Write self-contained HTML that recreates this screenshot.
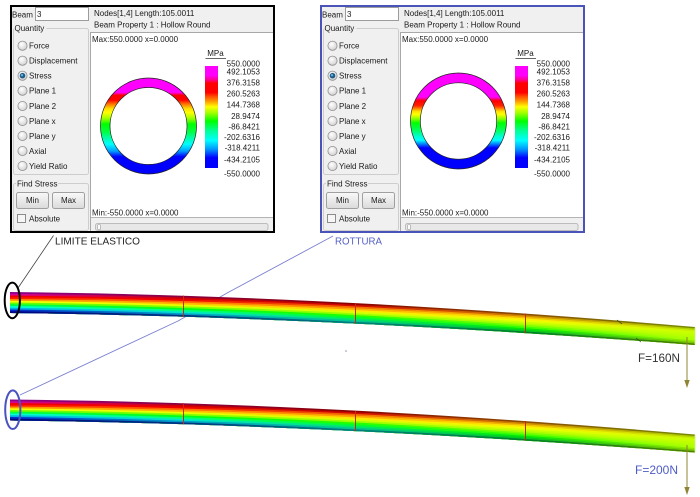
<!DOCTYPE html>
<html><head><meta charset="utf-8"><style>
html,body{margin:0;padding:0;background:#fff;width:700px;height:497px;overflow:hidden}
svg{display:block}
</style></head><body>
<svg width="700" height="497" viewBox="0 0 700 497" xmlns="http://www.w3.org/2000/svg" font-family="'Liberation Sans', Arial, sans-serif">
<defs>
<linearGradient id="cbar" x1="0" y1="0" x2="0" y2="1">
<stop offset="0" stop-color="#ff00ff"/><stop offset=".09" stop-color="#ff00ff"/><stop offset=".13" stop-color="#ff00a0"/><stop offset=".17" stop-color="#ff0000"/><stop offset=".26" stop-color="#ff0000"/><stop offset=".30" stop-color="#ff5000"/><stop offset=".35" stop-color="#ffa000"/><stop offset=".40" stop-color="#ffff00"/><stop offset=".46" stop-color="#a0ff00"/><stop offset=".54" stop-color="#00ff00"/><stop offset=".63" stop-color="#00ff90"/><stop offset=".73" stop-color="#00ffff"/><stop offset=".82" stop-color="#0090ff"/><stop offset=".90" stop-color="#0000ff"/><stop offset="1" stop-color="#0000ff"/>
</linearGradient>
<linearGradient id="ring1" gradientUnits="userSpaceOnUse" x1="0" y1="78" x2="0" y2="174">
<stop offset="0" stop-color="#ff00ff"/><stop offset=".15" stop-color="#ff00ff"/><stop offset=".18" stop-color="#ff0000"/><stop offset=".23" stop-color="#ff0000"/><stop offset=".27" stop-color="#ff7000"/><stop offset=".32" stop-color="#ffe000"/><stop offset=".36" stop-color="#ffff00"/><stop offset=".42" stop-color="#a0ff00"/><stop offset=".48" stop-color="#00ff00"/><stop offset=".56" stop-color="#00ff40"/><stop offset=".62" stop-color="#00ffa0"/><stop offset=".69" stop-color="#00ffff"/><stop offset=".76" stop-color="#00a0ff"/><stop offset=".82" stop-color="#0000ff"/><stop offset="1" stop-color="#0000ff"/>
</linearGradient>
<linearGradient id="ring2" gradientUnits="userSpaceOnUse" x1="0" y1="73" x2="0" y2="169">
<stop offset="0" stop-color="#ff00ff"/><stop offset=".25" stop-color="#ff00ff"/><stop offset=".29" stop-color="#ff0000"/><stop offset=".34" stop-color="#ff2000"/><stop offset=".37" stop-color="#ff8000"/><stop offset=".40" stop-color="#ffe000"/><stop offset=".43" stop-color="#ffff00"/><stop offset=".47" stop-color="#a0ff00"/><stop offset=".52" stop-color="#00ff00"/><stop offset=".60" stop-color="#00ff60"/><stop offset=".66" stop-color="#00ffd0"/><stop offset=".70" stop-color="#00ffff"/><stop offset=".74" stop-color="#0080ff"/><stop offset=".78" stop-color="#0000ff"/><stop offset="1" stop-color="#0000ff"/>
</linearGradient>
<radialGradient id="rad" cx=".4" cy=".35" r=".7">
<stop offset="0" stop-color="#ffffff"/><stop offset="1" stop-color="#d0d0d0"/>
</radialGradient>
<linearGradient id="btn" x1="0" y1="0" x2="0" y2="1">
<stop offset="0" stop-color="#f9f9f9"/><stop offset="1" stop-color="#dadada"/>
</linearGradient>
<linearGradient id="b0" gradientUnits="userSpaceOnUse" x1="10" y1="0" x2="695" y2="0"><stop offset="0" stop-color="#8c008c"/><stop offset=".25" stop-color="#8c0043"/><stop offset=".5" stop-color="#8c0000"/><stop offset=".75" stop-color="#8c4c00"/><stop offset="1" stop-color="#788c00"/></linearGradient>
<linearGradient id="b1" gradientUnits="userSpaceOnUse" x1="10" y1="0" x2="695" y2="0"><stop offset="0" stop-color="#d1009b"/><stop offset=".25" stop-color="#d10000"/><stop offset=".5" stop-color="#d10800"/><stop offset=".75" stop-color="#d18900"/><stop offset="1" stop-color="#afd100"/></linearGradient>
<linearGradient id="b2" gradientUnits="userSpaceOnUse" x1="10" y1="0" x2="695" y2="0"><stop offset="0" stop-color="#f20000"/><stop offset=".25" stop-color="#f20000"/><stop offset=".5" stop-color="#f26d00"/><stop offset=".75" stop-color="#f2bf00"/><stop offset="1" stop-color="#c5f200"/></linearGradient>
<linearGradient id="b3" gradientUnits="userSpaceOnUse" x1="10" y1="0" x2="695" y2="0"><stop offset="0" stop-color="#ff1700"/><stop offset=".25" stop-color="#ff6d00"/><stop offset=".5" stop-color="#ffa600"/><stop offset=".75" stop-color="#ffef00"/><stop offset="1" stop-color="#c9ff00"/></linearGradient>
<linearGradient id="b4" gradientUnits="userSpaceOnUse" x1="10" y1="0" x2="695" y2="0"><stop offset="0" stop-color="#ff9300"/><stop offset=".25" stop-color="#ffb800"/><stop offset=".5" stop-color="#ffe600"/><stop offset=".75" stop-color="#ecff00"/><stop offset="1" stop-color="#c3ff00"/></linearGradient>
<linearGradient id="b5" gradientUnits="userSpaceOnUse" x1="10" y1="0" x2="695" y2="0"><stop offset="0" stop-color="#f4ff00"/><stop offset=".25" stop-color="#e7ff00"/><stop offset=".5" stop-color="#d9ff00"/><stop offset=".75" stop-color="#cbff00"/><stop offset="1" stop-color="#beff00"/></linearGradient>
<linearGradient id="b6" gradientUnits="userSpaceOnUse" x1="10" y1="0" x2="695" y2="0"><stop offset="0" stop-color="#65ff00"/><stop offset=".25" stop-color="#80ff00"/><stop offset=".5" stop-color="#9bff00"/><stop offset=".75" stop-color="#abff00"/><stop offset="1" stop-color="#b8ff00"/></linearGradient>
<linearGradient id="b7" gradientUnits="userSpaceOnUse" x1="10" y1="0" x2="695" y2="0"><stop offset="0" stop-color="#00ff48"/><stop offset=".25" stop-color="#00ff18"/><stop offset=".5" stop-color="#25ff00"/><stop offset=".75" stop-color="#75ff00"/><stop offset="1" stop-color="#b3ff00"/></linearGradient>
<linearGradient id="b8" gradientUnits="userSpaceOnUse" x1="10" y1="0" x2="695" y2="0"><stop offset="0" stop-color="#00ffcc"/><stop offset=".25" stop-color="#00ff7e"/><stop offset=".5" stop-color="#00ff2e"/><stop offset=".75" stop-color="#35ff00"/><stop offset="1" stop-color="#aeff00"/></linearGradient>
<linearGradient id="b9" gradientUnits="userSpaceOnUse" x1="10" y1="0" x2="695" y2="0"><stop offset="0" stop-color="#00aee6"/><stop offset=".25" stop-color="#00e6cc"/><stop offset=".5" stop-color="#00e669"/><stop offset=".75" stop-color="#00e605"/><stop offset="1" stop-color="#96e600"/></linearGradient>
<linearGradient id="b10" gradientUnits="userSpaceOnUse" x1="10" y1="0" x2="695" y2="0"><stop offset="0" stop-color="#0027c7"/><stop offset=".25" stop-color="#009cc7"/><stop offset=".5" stop-color="#00c792"/><stop offset=".75" stop-color="#00c723"/><stop offset="1" stop-color="#7ec700"/></linearGradient>
<linearGradient id="b11" gradientUnits="userSpaceOnUse" x1="10" y1="0" x2="695" y2="0"><stop offset="0" stop-color="#000080"/><stop offset=".25" stop-color="#003280"/><stop offset=".5" stop-color="#007f80"/><stop offset=".75" stop-color="#00802a"/><stop offset="1" stop-color="#4c8000"/></linearGradient>
</defs>

<rect width="700" height="497" fill="#fff"/>

<!-- PANEL 1 -->
<g font-size="8" fill="#1a1a1a">
<rect x="11" y="6" width="263" height="226" fill="#f0f0f0"/>
<rect x="91" y="32.5" width="183" height="185" fill="#fff"/>
<path d="M90.5 232V32.5H274" fill="none" stroke="#a8a8a8"/>
<path d="M91 217.5H274" stroke="#b4b4b4"/>
<rect x="95.5" y="223.5" width="172.5" height="7" rx="2" fill="#e8e8e8" stroke="#bcbcbc"/>
<rect x="97.5" y="224.5" width="3" height="5" rx="1" fill="#fbfbfb" stroke="#9a9a9a" stroke-width="0.6"/>
<text x="94" y="16">Nodes[1,4] Length:105.0011</text>
<text x="94" y="27.5">Beam Property 1 : Hollow Round</text>
<text x="12" y="17.5">Beam</text>
<rect x="35.5" y="7.5" width="53" height="13" fill="#fff" stroke="#9c9c9c"/>
<text x="37" y="17">3</text>
<rect x="13.5" y="28.5" width="75" height="146" rx="2" fill="none" stroke="#cdcdcd"/>
<rect x="14.5" y="24" width="32" height="8" fill="#f0f0f0"/>
<text x="14.5" y="31">Quantity</text>
<g stroke="#8f8f8f" stroke-width="0.8" fill="url(#rad)">
<circle cx="22.5" cy="45.7" r="4.6"/><circle cx="22.5" cy="60.7" r="4.6"/><circle cx="22.5" cy="75.7" r="4.6"/><circle cx="22.5" cy="90.7" r="4.6"/><circle cx="22.5" cy="106" r="4.6"/><circle cx="22.5" cy="121" r="4.6"/><circle cx="22.5" cy="136" r="4.6"/><circle cx="22.5" cy="151" r="4.6"/><circle cx="22.5" cy="166" r="4.6"/>
</g>
<circle cx="22.5" cy="75.7" r="2.8" fill="#1f5a86"/>
<circle cx="22" cy="75.2" r="1.2" fill="#5fb0e0"/>
<text x="29" y="48.6">Force</text>
<text x="29" y="63.6">Displacement</text>
<text x="29" y="78.6">Stress</text>
<text x="29" y="93.6">Plane 1</text>
<text x="29" y="108.9">Plane 2</text>
<text x="29" y="123.9">Plane x</text>
<text x="29" y="138.9">Plane y</text>
<text x="29" y="153.9">Axial</text>
<text x="29" y="168.9">Yield Ratio</text>
<rect x="13.5" y="183.5" width="75" height="47" rx="2" fill="none" stroke="#cdcdcd"/>
<rect x="16" y="179" width="42" height="8" fill="#f0f0f0"/>
<text x="17" y="186.5">Find Stress</text>
<rect x="16.5" y="192.5" width="32" height="16" rx="2" fill="url(#btn)" stroke="#a0a0a0"/>
<text x="32.5" y="203" text-anchor="middle">Min</text>
<rect x="52.5" y="192.5" width="32" height="16" rx="2" fill="url(#btn)" stroke="#a0a0a0"/>
<text x="68.5" y="203" text-anchor="middle">Max</text>
<rect x="17.5" y="214.5" width="8" height="8" fill="#f6f6f6" stroke="#8c8c8c"/>
<text x="29" y="221.5">Absolute</text>
<text x="92" y="42">Max:550.0000 x=0.0000</text>
<text x="92" y="215.5">Min:-550.0000 x=0.0000</text>
<text x="215.5" y="56" text-anchor="middle">MPa</text>
<path d="M205.5 58.5H226" stroke="#333" stroke-width="0.8"/>
<rect x="205" y="66" width="13" height="102" fill="url(#cbar)"/>
<g text-anchor="end">
<text x="260" y="66.3">550.0000</text>
<text x="260" y="74.7">492.1053</text>
<text x="260" y="85.7">376.3158</text>
<text x="260" y="96.7">260.5263</text>
<text x="260" y="107.3">144.7368</text>
<text x="260" y="119">28.9474</text>
<text x="260" y="129.7">-86.8421</text>
<text x="260" y="140">-202.6316</text>
<text x="260" y="150.7">-318.4211</text>
<text x="260" y="162.3">-434.2105</text>
<text x="260" y="176.3">-550.0000</text>
</g>
<rect x="11" y="6" width="263" height="226" fill="none" stroke="#000" stroke-width="2"/>
</g>
<path d="M100.5 126a48 48 0 1 0 96 0a48 48 0 1 0 -96 0ZM110 126a38.5 38.5 0 1 0 77 0a38.5 38.5 0 1 0 -77 0Z" fill="url(#ring1)" fill-rule="evenodd" stroke="#222" stroke-width="0.7"/>

<!-- PANEL 2 -->
<g font-size="8" fill="#1a1a1a" transform="translate(310,0)">
<rect x="11" y="6" width="263" height="226" fill="#f0f0f0"/>
<rect x="91" y="32.5" width="183" height="185" fill="#fff"/>
<path d="M90.5 232V32.5H274" fill="none" stroke="#a8a8a8"/>
<path d="M91 217.5H274" stroke="#b4b4b4"/>
<rect x="95.5" y="223.5" width="172.5" height="7" rx="2" fill="#e8e8e8" stroke="#bcbcbc"/>
<rect x="97.5" y="224.5" width="3" height="5" rx="1" fill="#fbfbfb" stroke="#9a9a9a" stroke-width="0.6"/>
<text x="94" y="16">Nodes[1,4] Length:105.0011</text>
<text x="94" y="27.5">Beam Property 1 : Hollow Round</text>
<text x="12" y="17.5">Beam</text>
<rect x="35.5" y="7.5" width="53" height="13" fill="#fff" stroke="#9c9c9c"/>
<text x="37" y="17">3</text>
<rect x="13.5" y="28.5" width="75" height="146" rx="2" fill="none" stroke="#cdcdcd"/>
<rect x="14.5" y="24" width="32" height="8" fill="#f0f0f0"/>
<text x="14.5" y="31">Quantity</text>
<g stroke="#8f8f8f" stroke-width="0.8" fill="url(#rad)">
<circle cx="22.5" cy="45.7" r="4.6"/><circle cx="22.5" cy="60.7" r="4.6"/><circle cx="22.5" cy="75.7" r="4.6"/><circle cx="22.5" cy="90.7" r="4.6"/><circle cx="22.5" cy="106" r="4.6"/><circle cx="22.5" cy="121" r="4.6"/><circle cx="22.5" cy="136" r="4.6"/><circle cx="22.5" cy="151" r="4.6"/><circle cx="22.5" cy="166" r="4.6"/>
</g>
<circle cx="22.5" cy="75.7" r="2.8" fill="#1f5a86"/>
<circle cx="22" cy="75.2" r="1.2" fill="#5fb0e0"/>
<text x="29" y="48.6">Force</text>
<text x="29" y="63.6">Displacement</text>
<text x="29" y="78.6">Stress</text>
<text x="29" y="93.6">Plane 1</text>
<text x="29" y="108.9">Plane 2</text>
<text x="29" y="123.9">Plane x</text>
<text x="29" y="138.9">Plane y</text>
<text x="29" y="153.9">Axial</text>
<text x="29" y="168.9">Yield Ratio</text>
<rect x="13.5" y="183.5" width="75" height="47" rx="2" fill="none" stroke="#cdcdcd"/>
<rect x="16" y="179" width="42" height="8" fill="#f0f0f0"/>
<text x="17" y="186.5">Find Stress</text>
<rect x="16.5" y="192.5" width="32" height="16" rx="2" fill="url(#btn)" stroke="#a0a0a0"/>
<text x="32.5" y="203" text-anchor="middle">Min</text>
<rect x="52.5" y="192.5" width="32" height="16" rx="2" fill="url(#btn)" stroke="#a0a0a0"/>
<text x="68.5" y="203" text-anchor="middle">Max</text>
<rect x="17.5" y="214.5" width="8" height="8" fill="#f6f6f6" stroke="#8c8c8c"/>
<text x="29" y="221.5">Absolute</text>
<text x="92" y="42">Max:550.0000 x=0.0000</text>
<text x="92" y="215.5">Min:-550.0000 x=0.0000</text>
<text x="215.5" y="56" text-anchor="middle">MPa</text>
<path d="M205.5 58.5H226" stroke="#333" stroke-width="0.8"/>
<rect x="205" y="66" width="13" height="102" fill="url(#cbar)"/>
<g text-anchor="end">
<text x="260" y="66.3">550.0000</text>
<text x="260" y="74.7">492.1053</text>
<text x="260" y="85.7">376.3158</text>
<text x="260" y="96.7">260.5263</text>
<text x="260" y="107.3">144.7368</text>
<text x="260" y="119">28.9474</text>
<text x="260" y="129.7">-86.8421</text>
<text x="260" y="140">-202.6316</text>
<text x="260" y="150.7">-318.4211</text>
<text x="260" y="162.3">-434.2105</text>
<text x="260" y="176.3">-550.0000</text>
</g>
<rect x="11" y="6" width="263" height="226" fill="none" stroke="#4a54b8" stroke-width="2"/>
</g>
<path d="M410.5 121a48 48 0 1 0 96 0a48 48 0 1 0 -96 0ZM420.3 121a38.2 38.2 0 1 0 76.4 0a38.2 38.2 0 1 0 -76.4 0Z" fill="url(#ring2)" fill-rule="evenodd" stroke="#222" stroke-width="0.7"/>

<!-- labels -->
<text x="55" y="244.5" font-size="10.5" fill="#222" textLength="85" lengthAdjust="spacingAndGlyphs">LIMITE ELASTICO</text>
<text x="335" y="244.5" font-size="10.5" fill="#5560c4" textLength="47" lengthAdjust="spacingAndGlyphs">ROTTURA</text>

<!-- connector lines (behind beams) -->
<line x1="18" y1="288" x2="53.5" y2="235.5" stroke="#444" stroke-width="0.8"/>
<polyline points="20,395 178,321 228,292.5 333,236" fill="none" stroke="#7a7fd0" stroke-width="0.9"/>
<circle cx="346" cy="351" r="0.8" fill="#8890b0"/>

<!-- BEAM 1 -->
<g id="beam1">
<path d="M10 292Q330 295.2 695 327L695 345Q330 316.8 10 313Z" fill="url(#b0)"/>
<path d="M10 293.75Q330 297 695 328.5L695 345Q330 316.8 10 313Z" fill="url(#b1)"/>
<path d="M10 295.5Q330 298.8 695 330L695 345Q330 316.8 10 313Z" fill="url(#b2)"/>
<path d="M10 297.25Q330 300.6 695 331.5L695 345Q330 316.8 10 313Z" fill="url(#b3)"/>
<path d="M10 299Q330 302.4 695 333L695 345Q330 316.8 10 313Z" fill="url(#b4)"/>
<path d="M10 300.75Q330 304.2 695 334.5L695 345Q330 316.8 10 313Z" fill="url(#b5)"/>
<path d="M10 302.5Q330 306 695 336L695 345Q330 316.8 10 313Z" fill="url(#b6)"/>
<path d="M10 304.25Q330 307.8 695 337.5L695 345Q330 316.8 10 313Z" fill="url(#b7)"/>
<path d="M10 306Q330 309.6 695 339L695 345Q330 316.8 10 313Z" fill="url(#b8)"/>
<path d="M10 307.75Q330 311.4 695 340.5L695 345Q330 316.8 10 313Z" fill="url(#b9)"/>
<path d="M10 309.5Q330 313.2 695 342L695 345Q330 316.8 10 313Z" fill="url(#b10)"/>
<path d="M10 311.25Q330 315 695 343.5L695 345Q330 316.8 10 313Z" fill="url(#b11)"/>
<g stroke="#cc2a10" stroke-width="1">
<line x1="183.5" y1="295.5" x2="183.5" y2="317"/>
<line x1="355.5" y1="303" x2="355.5" y2="323.5"/>
<line x1="525.5" y1="313.5" x2="525.5" y2="333"/>
</g>
<g stroke="#2f4a00" stroke-width="0.7">
<line x1="617" y1="320" x2="622" y2="324"/>
<line x1="636" y1="338" x2="641" y2="342"/>
</g>
<line x1="695" y1="327.5" x2="695" y2="344.5" stroke="#c8f080" stroke-width="0.8"/>
</g>

<!-- BEAM 2 -->
<g transform="translate(0,107.5)">
<path d="M10 292Q330 295.2 695 327L695 345Q330 316.8 10 313Z" fill="url(#b0)"/>
<path d="M10 293.75Q330 297 695 328.5L695 345Q330 316.8 10 313Z" fill="url(#b1)"/>
<path d="M10 295.5Q330 298.8 695 330L695 345Q330 316.8 10 313Z" fill="url(#b2)"/>
<path d="M10 297.25Q330 300.6 695 331.5L695 345Q330 316.8 10 313Z" fill="url(#b3)"/>
<path d="M10 299Q330 302.4 695 333L695 345Q330 316.8 10 313Z" fill="url(#b4)"/>
<path d="M10 300.75Q330 304.2 695 334.5L695 345Q330 316.8 10 313Z" fill="url(#b5)"/>
<path d="M10 302.5Q330 306 695 336L695 345Q330 316.8 10 313Z" fill="url(#b6)"/>
<path d="M10 304.25Q330 307.8 695 337.5L695 345Q330 316.8 10 313Z" fill="url(#b7)"/>
<path d="M10 306Q330 309.6 695 339L695 345Q330 316.8 10 313Z" fill="url(#b8)"/>
<path d="M10 307.75Q330 311.4 695 340.5L695 345Q330 316.8 10 313Z" fill="url(#b9)"/>
<path d="M10 309.5Q330 313.2 695 342L695 345Q330 316.8 10 313Z" fill="url(#b10)"/>
<path d="M10 311.25Q330 315 695 343.5L695 345Q330 316.8 10 313Z" fill="url(#b11)"/>
<g stroke="#cc2a10" stroke-width="1">
<line x1="183.5" y1="295.5" x2="183.5" y2="317"/>
<line x1="355.5" y1="303" x2="355.5" y2="323.5"/>
<line x1="525.5" y1="313.5" x2="525.5" y2="333"/>
</g>
<line x1="695" y1="327.5" x2="695" y2="344.5" stroke="#c8f080" stroke-width="0.8"/>
</g>

<!-- ellipses -->
<ellipse cx="12.3" cy="300.4" rx="7.6" ry="17.8" fill="none" stroke="#000" stroke-width="2"/>
<ellipse cx="12.8" cy="409.7" rx="7.6" ry="19.3" fill="none" stroke="#4a52c0" stroke-width="2"/>

<!-- force arrows -->
<line x1="687" y1="337" x2="687" y2="381" stroke="#8f8535" stroke-width="1"/>
<polygon points="684.3,380 689.7,380 687,388" fill="#8f8535"/>
<line x1="687" y1="445" x2="687" y2="488" stroke="#8f8535" stroke-width="1"/>
<polygon points="684.3,487 689.7,487 687,495" fill="#8f8535"/>

<text x="638" y="362" font-size="12" fill="#333" textLength="42" lengthAdjust="spacingAndGlyphs">F=160N</text>
<text x="635" y="474" font-size="12" fill="#4f5cc8" textLength="43" lengthAdjust="spacingAndGlyphs">F=200N</text>
</svg>
</body></html>
